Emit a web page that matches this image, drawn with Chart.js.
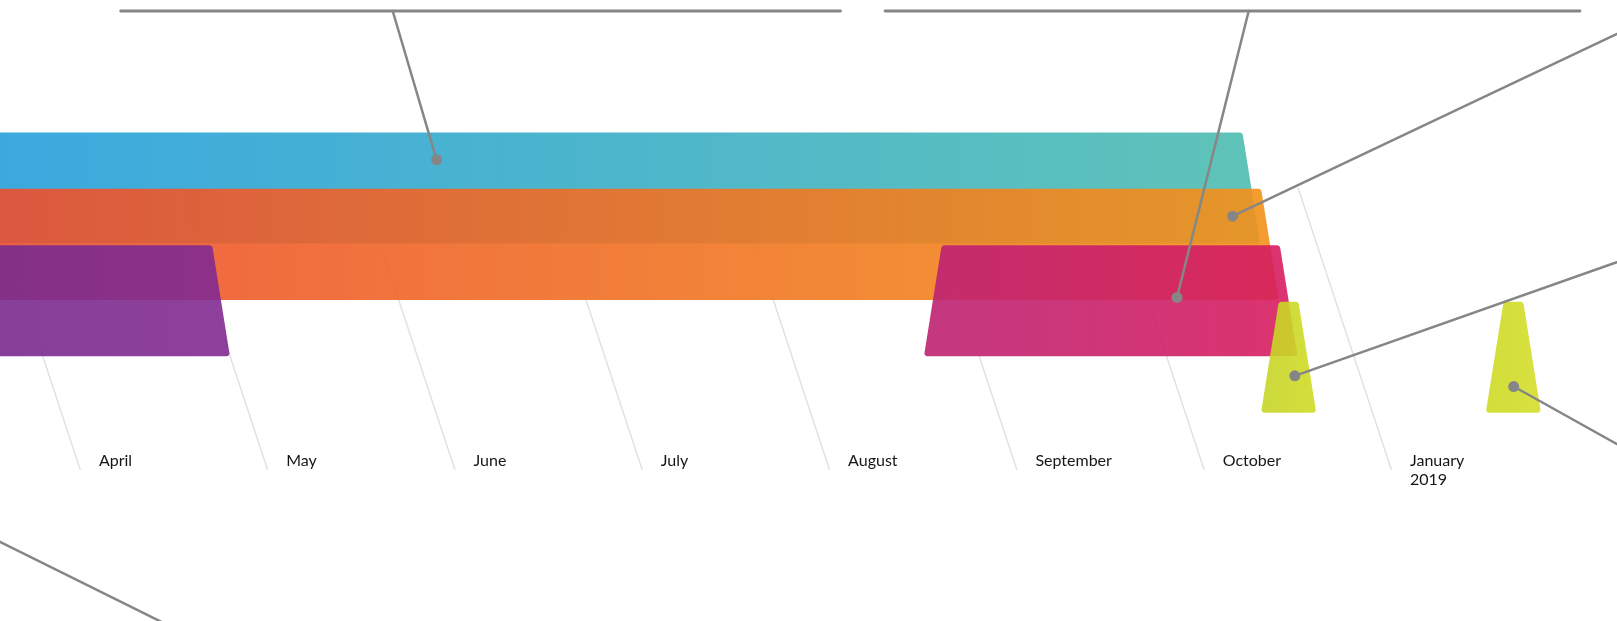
<!DOCTYPE html>
<html>
<head>
<meta charset="utf-8">
<script src="https://cdn.jsdelivr.net/npm/chart.js@4.4.1/dist/chart.umd.min.js"></script>
<style>
  html, body { margin: 0; padding: 0; background: #fff; overflow: hidden; }
  #wrap { width: 1617px; height: 621px; position: relative; }
</style>
</head>
<body>
<div id="wrap"><canvas id="timeline"></canvas></div>
<script>
// one slot per labelled month on the time axis
var monthLabels = ['April', 'May', 'June', 'July', 'August', 'September', 'October', ['January', '2019']];

// bars: start / end in month slots, lane = row centre (0 = top row)
var barStart = [-3.5, -3.5, -3.5, 4.85, 6.55, 7.75];
var barEnd   = [6.75, 6.75, 1.05, 6.75, 6.75, 7.95];
var barLane  = [0, 1, 2, 2, 3, 3];

// callout dots: position in month slots and lane
var calloutAt   = [2.45, 6.6, 6.16, 6.65, 7.8, -2.73];
var calloutLane = [-0.5, 0.5, 1.94, 3.33, 3.52, 2];

// styles
var barColors = [
  ['rgb(38,160,220)', 'rgb(78,189,177)'],
  ['rgb(238,80,46)', 'rgb(244,146,26)'],
  ['rgb(121,43,143)', 'rgb(131,43,145)'],
  ['rgb(190,34,114)', 'rgb(216,29,96)'],
  ['rgb(200,214,40)', 'rgb(206,219,36)'],
  ['rgb(206,219,36)', 'rgb(212,222,42)']
];
// where each callout leader runs to (page pixels, the labels sit off the picture)
var leaderEnds = [[392.7, 11], [1640, 23], [1248.7, 11], [1640, 254], [1640, 457], [200, 641]];
var headLines = [[120.7, 840.5, 11], [885, 1580, 11]];

var SLANT = 0.331;  // grid drifts right going down
var FLARE = 0.16;   // bars widen toward the bottom
var AXIS_LANE = 5;  // row where the month labels sit
var LINE = '#868686';

function slotX(chart, v, y) {
  return chart.scales.x.getPixelForValue(v) + SLANT * (y - chart.scales.y.getPixelForValue(AXIS_LANE));
}

function roundedPoly(ctx, pts, r) {
  var n = pts.length;
  ctx.beginPath();
  ctx.moveTo((pts[n - 1].x + pts[0].x) / 2, (pts[n - 1].y + pts[0].y) / 2);
  for (var i = 0; i < n; i++) {
    var p = pts[i], q = pts[(i + 1) % n];
    ctx.arcTo(p.x, p.y, q.x, q.y, r);
  }
  ctx.closePath();
}

var timelinePlugin = {
  id: 'timeline',
  beforeDatasetsDraw: function (chart) {
    var ctx = chart.ctx, ys = chart.scales.y;
    var yTop = ys.getPixelForValue(0), yBot = ys.getPixelForValue(AXIS_LANE);
    ctx.save();
    ctx.strokeStyle = '#e2e2e2';
    ctx.lineWidth = 1.5;
    for (var i = 0; i < monthLabels.length; i++) {
      ctx.beginPath();
      ctx.moveTo(slotX(chart, i, yTop), yTop);
      ctx.lineTo(slotX(chart, i, yBot), yBot);
      ctx.stroke();
    }
    ctx.restore();
  },
  afterDatasetsDraw: function (chart) {
    var ctx = chart.ctx, ys = chart.scales.y;
    var h = (ys.getPixelForValue(1) - ys.getPixelForValue(0)) * 0.985;
    ctx.save();
    ctx.globalAlpha = 0.9;
    for (var b = 0; b < barStart.length; b++) {
      var yc = ys.getPixelForValue(barLane[b]);
      var xa = slotX(chart, barStart[b], yc), xb = slotX(chart, barEnd[b], yc);
      var d = FLARE * h;
      var pts = [
        {x: xa + d, y: yc - h}, {x: xb - d, y: yc - h},
        {x: xb + d, y: yc + h}, {x: xa - d, y: yc + h}
      ];
      var g = ctx.createLinearGradient(Math.max(xa, chart.chartArea.left), 0, xb, 0);
      g.addColorStop(0, barColors[b][0]);
      g.addColorStop(1, barColors[b][1]);
      ctx.fillStyle = g;
      roundedPoly(ctx, pts, 3);
      ctx.fill();
    }
    ctx.restore();

    // month labels
    var yAxis = ys.getPixelForValue(AXIS_LANE);
    ctx.save();
    ctx.fillStyle = '#161616';
    ctx.font = '16px Lato';
    ctx.textBaseline = 'alphabetic';
    for (var i = 0; i < monthLabels.length; i++) {
      var lines = [].concat(monthLabels[i]);
      var x = slotX(chart, i, yAxis) + 18.5;
      for (var l = 0; l < lines.length; l++) {
        ctx.fillText(lines[l], x, yAxis - 4 + l * 18.7);
      }
    }
    ctx.restore();

    // callouts
    ctx.save();
    ctx.strokeStyle = LINE;
    ctx.fillStyle = LINE;
    ctx.lineCap = 'round';
    ctx.lineWidth = 2.8;
    headLines.forEach(function (hl) {
      ctx.beginPath();
      ctx.moveTo(hl[0], hl[2]);
      ctx.lineTo(hl[1], hl[2]);
      ctx.stroke();
    });
    ctx.lineWidth = 2.5;
    for (var c = 0; c < calloutAt.length; c++) {
      var cy = ys.getPixelForValue(calloutLane[c]);
      var cx = slotX(chart, calloutAt[c], cy);
      ctx.beginPath();
      ctx.moveTo(cx, cy);
      ctx.lineTo(leaderEnds[c][0], leaderEnds[c][1]);
      ctx.stroke();
      ctx.beginPath();
      ctx.arc(cx, cy, 5.5, 0, Math.PI * 2);
      ctx.fill();
    }
    ctx.restore();
  }
};

var ctx = document.getElementById('timeline').getContext('2d');
var chart = new Chart(ctx, {
  type: 'bar',
  data: {
    datasets: [{
      label: 'Schedule',
      data: barStart.map(function (s, i) { return {x: [s, barEnd[i]], y: barLane[i]}; }),
      backgroundColor: 'rgba(0,0,0,0)',
      borderWidth: 0
    }]
  },
  options: {
    indexAxis: 'y',
    responsive: true,
    maintainAspectRatio: false,
    animation: false,
    layout: { padding: 0 },
    plugins: { legend: { display: false }, tooltip: { enabled: false } },
    scales: {
      x: { type: 'linear', display: false, offset: false, bounds: 'data', min: -0.4293, max: 8.2039 },
      y: { type: 'linear', display: false, offset: false, bounds: 'data', reverse: true, min: -3.333, max: 7.677 }
    }
  },
  plugins: [timelinePlugin]
});
</script>
</body>
</html>
